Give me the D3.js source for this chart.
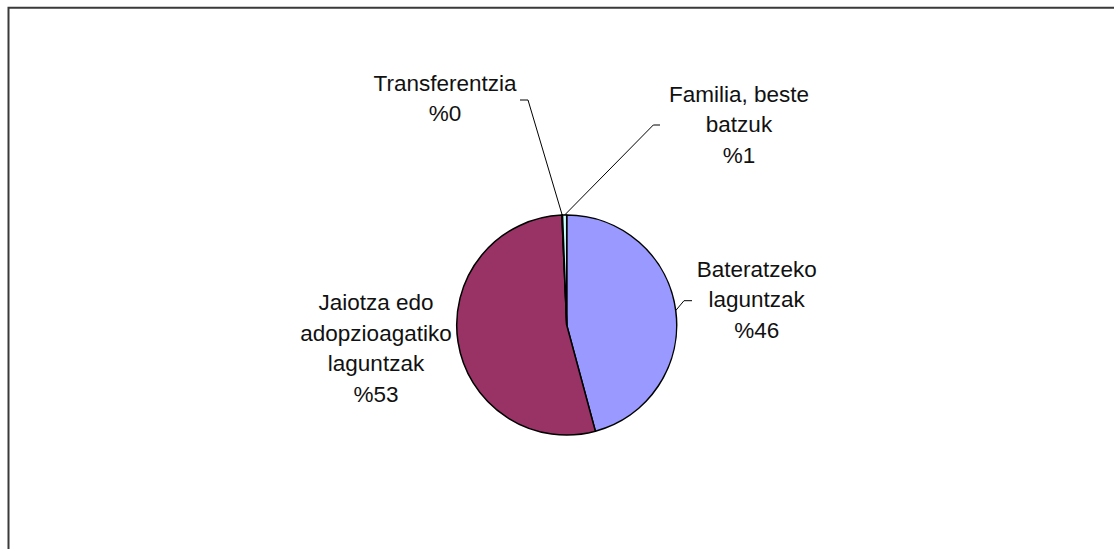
<!DOCTYPE html>
<html>
<head>
<meta charset="utf-8">
<script src="https://cdn.jsdelivr.net/npm/d3@7/dist/d3.min.js"></script>
<style>
  html, body { margin: 0; padding: 0; background: #ffffff; }
  svg { display: block; }
</style>
</head>
<body>
<svg id="chart" width="1114" height="549"></svg>
<script>
// ---- Data ----
const categories = ["Bateratzeko laguntzak", "Jaiotza edo adopzioagatiko laguntzak", "Transferentzia", "Familia, beste batzuk"];
const labelLines = [["Bateratzeko", "laguntzak"], ["Jaiotza edo", "adopzioagatiko", "laguntzak"], ["Transferentzia"], ["Familia, beste", "batzuk"]];
const values = [45.8, 53.5, 0.1, 0.6];
const percentLabels = ["%46", "%53", "%0", "%1"];
const colors = ["#9999FF", "#993366", "#FFFFCC", "#CCFFFF"];

// ---- Layout ----
const W = 1114, H = 549;
const cx = 566.7, cy = 325, R = 110;
const fontSize = 22.5, lineH = 30.5;
// label block: center x offset, first baseline y offset (relative to pie center), elbow of leader
const labelLayout = [
  { dx: 190, dy: -48.3, elbow: [684, 300.7], end: [692, 300.7] },
  { dx: -190.7, dy: -15, elbow: null },
  { dx: -121.7, dy: -234.3, elbow: [528, 100], end: [520, 100] },
  { dx: 172.3, dy: -223.3, elbow: [653.3, 125], end: [660, 125] }
];

const svg = d3.select("#chart");

// Border (top and left edges visible)
svg.append("path")
  .attr("d", `M8.5,${H} L8.5,7.8 L${W},7.8`)
  .attr("fill", "none")
  .attr("stroke", "#3a3a3a")
  .attr("stroke-width", 2);

const data = categories.map((c, i) => ({ cat: c, value: values[i], i }));
const pie = d3.pie().sort(null).value(d => d.value).startAngle(0).endAngle(2 * Math.PI);
const arcs = pie(data);
const arc = d3.arc().innerRadius(0).outerRadius(R);

const g = svg.append("g").attr("transform", `translate(${cx},${cy})`);
g.selectAll("path.slice")
  .data(arcs)
  .join("path")
  .attr("class", "slice")
  .attr("d", arc)
  .attr("fill", d => colors[d.data.i])
  .attr("stroke", "#000")
  .attr("stroke-width", 1.5)
  .attr("stroke-linejoin", "round");

// Leader lines
arcs.forEach(a => {
  const L = labelLayout[a.data.i];
  if (!L.elbow) return;
  const mid = (a.startAngle + a.endAngle) / 2;
  const px = cx + R * Math.sin(mid), py = cy - R * Math.cos(mid);
  svg.append("polyline")
    .attr("points", `${px},${py} ${L.elbow[0]},${L.elbow[1]} ${L.end[0]},${L.end[1]}`)
    .attr("fill", "none")
    .attr("stroke", "#000")
    .attr("stroke-width", 1);
});

// Labels
arcs.forEach(a => {
  const i = a.data.i;
  const L = labelLayout[i];
  const lines = labelLines[i].concat([percentLabels[i]]);
  const t = svg.append("text")
    .attr("x", cx + L.dx)
    .attr("y", cy + L.dy)
    .attr("text-anchor", "middle")
    .attr("font-family", "'Liberation Sans', Arial, sans-serif")
    .attr("font-size", fontSize)
    .attr("fill", "#111");
  lines.forEach((ln, k) => {
    t.append("tspan")
      .attr("x", cx + L.dx)
      .attr("dy", k === 0 ? 0 : lineH)
      .text(ln);
  });
});
</script>
</body>
</html>
